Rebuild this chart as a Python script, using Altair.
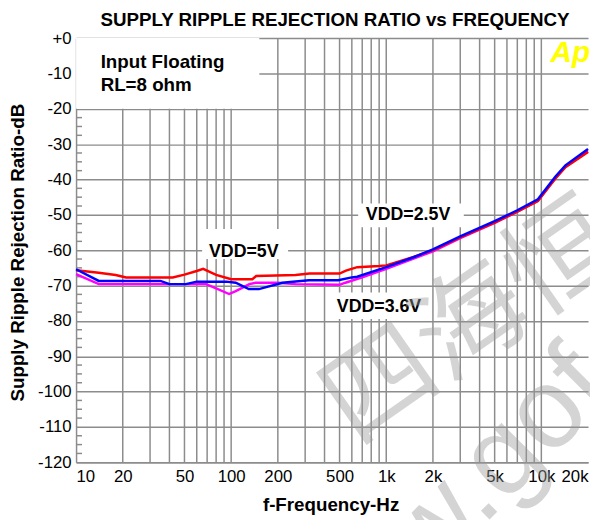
import altair as alt
import pandas as pd

# ---------------- data ----------------
RED_F = [10, 14, 18, 21, 42, 50, 60, 66, 80, 100, 137, 145, 260, 320, 500, 550, 650, 900, 1000,
         1500, 2000, 3000, 5000, 7000, 9500, 12300, 14300, 20000]
RED_DB = [-65.7, -66.4, -67.0, -67.7, -67.7, -66.9, -65.9, -65.3, -67.0, -68.2, -68.2, -67.3, -67.0,
          -66.6, -66.6, -65.8, -64.8, -64.5, -64.3, -61.9, -60.0, -56.4, -52.2, -49.1, -46.1,
          -39.8, -36.5, -32.2]

BLUE_F = [10, 14, 35, 40, 51, 60, 93, 107, 130, 151, 214, 317, 490, 600, 650, 1000, 1500, 2000,
          3000, 5000, 7000, 9500, 12300, 14300, 20000]
BLUE_DB = [-65.4, -68.7, -68.7, -69.6, -69.6, -68.9, -68.9, -69.2, -71.0, -71.0, -69.2, -68.5,
           -68.5, -67.7, -67.5, -64.8, -62.0, -59.8, -56.1, -51.8, -48.7, -45.6, -39.2, -36.0, -31.4]

MAG_F = [10, 14, 69, 80, 97, 107, 131, 144, 200, 260, 500, 545, 700, 980, 1500, 2000, 3000, 5000,
         7000, 9500, 12300, 14300, 20000]
MAG_DB = [-66.8, -69.6, -69.6, -70.8, -72.4, -71.6, -69.6, -69.2, -69.2, -69.6, -69.8, -69.2,
          -67.7, -65.4, -62.4, -60.3, -56.6, -52.3, -49.1, -46.0, -39.6, -36.4, -32.0]

X_LABEL_VALUES = [10, 20, 50, 100, 200, 500, 1000, 2000, 5000, 10000, 20000]
Y_LABEL_VALUES = [0, -10, -20, -30, -40, -50, -60, -70, -80, -90, -100, -110, -120]
VGRID_F = [20, 30, 40, 50, 60, 70, 80, 90,
           100, 200, 300, 400, 500, 600, 700, 800, 900,
           1000, 2000, 3000, 4000, 5000, 6000, 7000, 8000, 9000, 10000]
MINOR_DB = [v / 10 for v in range(0, -1201, -25) if v % 100 != 0]

# label boxes (white backgrounds that hide the grid behind annotations)
BOX_F1 = [10, 65, 659, 419]
BOX_F2 = [152, 233, 3162, 1822]
BOX_DB1 = [0, -54, -46.8, -72]
BOX_DB2 = [-20, -62.5, -53.5, -79.5]

NOTE_LEFT_TEXT = ["Input Floating", "RL=8 ohm"]
NOTE_LEFT_F = [14.4, 14.4]
NOTE_LEFT_DB = [-8.4, -14.9]

NOTE_CTR_TEXT = ["VDD=5V", "VDD=2.5V", "VDD=3.6V"]
NOTE_CTR_F = [120.6, 1382, 898]
NOTE_CTR_DB = [-60.6, -50.2, -76.2]

TITLE = "SUPPLY RIPPLE REJECTION RATIO vs FREQUENCY"
X_TITLE = "f-Frequency-Hz"
Y_TITLE = "Supply Ripple Rejection Ratio-dB"

# ---------------- layout / style ----------------
W, H = 519, 430
GRID = "#8c8c8c"
FONT = "Liberation Sans"

xs = alt.Scale(type="log", domain=[10, 20000], nice=False)
ys = alt.Scale(domain=[-120, 0], nice=False)

X_AXIS = alt.Axis(
    values=X_LABEL_VALUES,
    labelExpr="datum.value >= 1000 ? (datum.value / 1000) + 'k' : '' + datum.value",
    labelFlush=True, labelFont=FONT, labelFontSize=17, labelColor="black",
    labelPadding=7, ticks=False, tickSize=0, grid=False,
    domainColor=GRID, domainWidth=1.5,
    title=X_TITLE, titleFont=FONT, titleFontSize=19, titleFontWeight="bold",
    titleColor="black", titleX=258, titleY=43, titleAlign="center", titleBaseline="middle",
)
Y_AXIS = alt.Axis(
    values=Y_LABEL_VALUES,
    labelExpr="datum.value == 0 ? '+0' : '' + datum.value",
    labelFont=FONT, labelFontSize=17, labelColor="black", labelPadding=5,
    ticks=False, tickSize=0, grid=True, gridColor=GRID, gridWidth=1.5,
    domainColor=GRID, domainWidth=1.5,
    title=Y_TITLE, titleFont=FONT, titleFontSize=19, titleFontWeight="bold",
    titleColor="black", titleX=-59, titleY=217, titleAngle=270,
    titleAlign="center", titleBaseline="middle",
)


def X(field):
    return alt.X(field, type="quantitative", scale=xs, axis=X_AXIS)


def Y(field):
    return alt.Y(field, type="quantitative", scale=ys, axis=Y_AXIS)


vgrid = alt.Chart(pd.DataFrame({"f": VGRID_F})).mark_rule(
    color=GRID, strokeWidth=1.5
).encode(x=X("f"))

minor = alt.Chart(pd.DataFrame({"db": MINOR_DB})).mark_rule(
    color=GRID, strokeWidth=1.5
).encode(y=Y("db"), x=alt.value(0), x2=alt.value(6))

boxes = alt.Chart(pd.DataFrame({"f1": BOX_F1, "f2": BOX_F2, "d1": BOX_DB1, "d2": BOX_DB2})).mark_rect(
    fill="white"
).encode(x=X("f1"), x2="f2", y=Y("d1"), y2="d2")

# watermark (light, semi-transparent)
wm_cjk = alt.Chart(pd.DataFrame({"t": ["四海恒"]})).mark_text(
    font="Noto Sans CJK SC", fontSize=112, angle=325, align="left", baseline="middle",
    color="#9a9a9a", opacity=0.42
).encode(text="t:N", x=alt.value(264), y=alt.value(386))

wm_url = alt.Chart(pd.DataFrame({"t": ["www.gof"]})).mark_text(
    font=FONT, fontSize=115, angle=315, align="left", baseline="alphabetic",
    color="#9a9a9a", opacity=0.42
).encode(text="t:N", x=alt.value(240), y=alt.value(667))


def curve(fs, dbs, color):
    return alt.Chart(pd.DataFrame({"f": fs, "db": dbs})).mark_line(
        color=color, strokeWidth=2.5
    ).encode(x=X("f"), y=Y("db"))


mag = curve(MAG_F, MAG_DB, "#ff00ff")
red = curve(RED_F, RED_DB, "#ff0000")
blue = curve(BLUE_F, BLUE_DB, "#0000ff")

notes_left = alt.Chart(pd.DataFrame({"t": NOTE_LEFT_TEXT, "f": NOTE_LEFT_F, "db": NOTE_LEFT_DB})).mark_text(
    font=FONT, fontSize=19, fontWeight="bold", align="left", baseline="alphabetic", color="black"
).encode(x=X("f"), y=Y("db"), text="t:N")

notes_ctr = alt.Chart(pd.DataFrame({"t": NOTE_CTR_TEXT, "f": NOTE_CTR_F, "db": NOTE_CTR_DB})).mark_text(
    font=FONT, fontSize=18, fontWeight="bold", align="center", baseline="middle", color="black"
).encode(x=X("f"), y=Y("db"), text="t:N")

title = alt.Chart(pd.DataFrame({"t": [TITLE]})).mark_text(
    font=FONT, fontSize=19, fontWeight="bold", align="center", baseline="alphabetic", color="black"
).encode(text="t:N", x=alt.value(W / 2 + 3), y=alt.value(-12))

logo = alt.Chart(pd.DataFrame({"t": ["Ap"]})).mark_text(
    font=FONT, fontSize=30, fontWeight="bold", fontStyle="italic", align="left",
    baseline="alphabetic", color="#ffff00"
).encode(text="t:N", x=alt.value(481), y=alt.value(24))

chart = alt.layer(
    vgrid, minor, boxes, mag, red, blue, notes_left, notes_ctr, title, logo, wm_cjk, wm_url
).properties(
    width=W, height=H,
    autosize=alt.AutoSizeParams(type="none"),
    padding={"left": 69, "top": 27, "right": 2, "bottom": 55},
    background="white",
).configure_view(stroke=None)

chart.save("out.html", embed_options={"renderer": "svg", "actions": False})
